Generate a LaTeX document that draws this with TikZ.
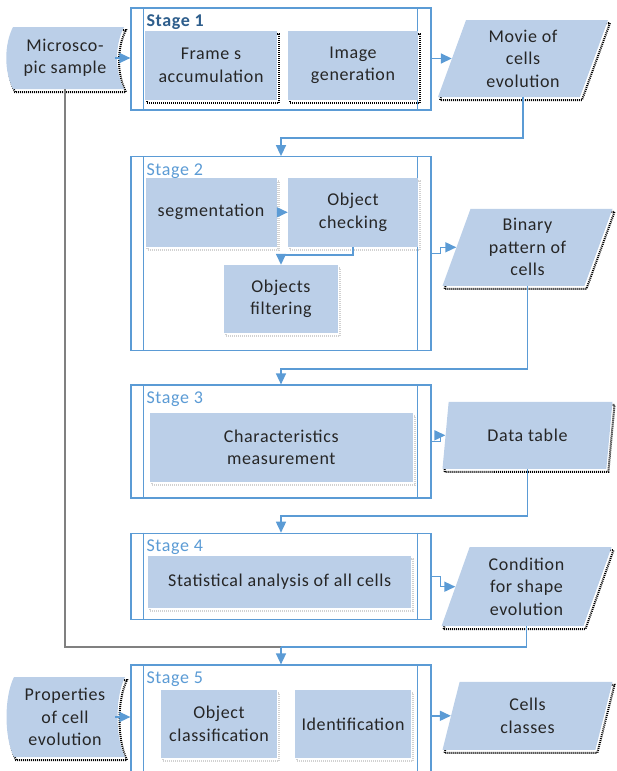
\documentclass[tikz,border=0pt]{standalone}
\usepackage{fontspec}
\setmainfont{Carlito}[LetterSpace=3.5]
\usetikzlibrary{shapes.geometric,arrows.meta,calc}

\definecolor{boxblue}{HTML}{BBCFE8}
\definecolor{lineblue}{HTML}{5B9BD5}
\definecolor{stagedark}{HTML}{2E5E8C}
\definecolor{txt}{HTML}{262626}

\begin{document}
\begin{tikzpicture}[x=1pt,y=-1pt,
    font=\fontsize{18}{22.5}\selectfont,
    darkshadow/.style={preaction={draw=black,line width=2pt,dash pattern=on 1pt off 1pt,transform canvas={shift={(2pt,-3pt)}}}},
    lightshadow/.style={preaction={draw=black!18,line width=2.5pt,dash pattern=on 1pt off 1pt,transform canvas={shift={(2pt,-3pt)}}}},
    task/.style={rectangle,fill=boxblue,text=txt,align=center,inner sep=0pt},
    dataio/.style={trapezium,trapezium left angle=64,trapezium right angle=116,trapezium stretches body,
        fill=boxblue,text=txt,align=center,inner sep=0pt,minimum height=77pt,minimum width=170pt,darkshadow},
    stagebox/.style={rectangle,draw=lineblue,line width=1.2pt,fill=white,minimum width=300pt,inner sep=0pt},
    stageedge/.style={draw=lineblue,line width=1.2pt},
    stagetag/.style={anchor=west,text=lineblue,inner sep=0pt},
    link/.style={draw=lineblue,line width=1.5pt,-{Triangle[length=11pt,width=10pt]}},
]
    \useasboundingbox (0,0) rectangle (616,771);
    \clip (0,0) rectangle (616,771);

    % Stage 1
    \node[stagebox,minimum height=102pt] (s1) at (281,59) {};
    \draw[stageedge] ([xshift=13pt]s1.north west) -- ([xshift=13pt]s1.south west);
    \draw[stageedge] ([xshift=-14pt]s1.north east) -- ([xshift=-14pt]s1.south east);
    \node[stagetag,text=stagedark,font=\fontsize{18}{22}\selectfont\bfseries] (tag1) at ([xshift=16pt,yshift=-15pt]s1.north west) {Stage 1};
    \node[task,darkshadow,minimum width=132pt,minimum height=69pt] (accum) at (211,65.5) {Frame s\\accumulation};
    \node[task,darkshadow,minimum width=130pt,minimum height=69pt] (imggen) at (353,65.5) {Image\\generation};

    % Stage 2
    \node[stagebox,minimum height=194pt] (s2) at (281,253.7) {};
    \draw[stageedge] ([xshift=13pt]s2.north west) -- ([xshift=13pt]s2.south west);
    \draw[stageedge] ([xshift=-14pt]s2.north east) -- ([xshift=-14pt]s2.south east);
    \node[stagetag] (tag2) at ([xshift=16pt,yshift=-15pt]s2.north west) {Stage 2};
    \node[task,lightshadow,minimum width=131pt,minimum height=69pt] (seg) at (211,212.3) {segmentation};
    \node[task,lightshadow,minimum width=130pt,minimum height=69pt] (check) at (353,212.3) {Object\\checking};
    \node[task,lightshadow,minimum width=114pt,minimum height=68pt] (filt) at (281,299) {Objects\\filtering};

    % Stage 3
    \node[stagebox,minimum height=113pt] (s3) at (281,441.5) {};
    \draw[stageedge] ([xshift=13pt]s3.north west) -- ([xshift=13pt]s3.south west);
    \draw[stageedge] ([xshift=-14pt]s3.north east) -- ([xshift=-14pt]s3.south east);
    \node[stagetag] (tag3) at ([xshift=16pt,yshift=-15pt]s3.north west) {Stage 3};
    \node[task,lightshadow,minimum width=263pt,minimum height=69pt] (meas) at (281.3,447.3) {Characteristics\\measurement};

    % Stage 4
    \node[stagebox,minimum height=86pt] (s4) at (281,576.3) {};
    \draw[stageedge] ([xshift=13pt]s4.north west) -- ([xshift=13pt]s4.south west);
    \draw[stageedge] ([xshift=-14pt]s4.north east) -- ([xshift=-14pt]s4.south east);
    \node[stagetag] (tag4) at ([xshift=16pt,yshift=-15pt]s4.north west) {Stage 4};
    \node[task,lightshadow,minimum width=263pt,minimum height=52pt] (stat) at (279.7,582) {Statistical analysis of all cells};

    % Stage 5
    \node[stagebox,minimum height=120pt] (s5) at (281,725) {};
    \draw[stageedge] ([xshift=13pt]s5.north west) -- ([xshift=13pt]s5.south west);
    \draw[stageedge] ([xshift=-14pt]s5.north east) -- ([xshift=-14pt]s5.south east);
    \node[stagetag] (tag5) at ([xshift=16pt,yshift=-15pt]s5.north west) {Stage 5};
    \node[task,lightshadow,minimum width=116pt,minimum height=68pt] (classif) at (219,724) {Object\\classification};
    \node[task,lightshadow,minimum width=116pt,minimum height=68pt] (ident) at (353,724) {Identification};

    % Inputs (stored data)
    \fill[boxblue,darkshadow] (13,27) -- (124,27) .. controls (114.7,45) and (114.7,71) .. (124,89)
        -- (13,89) .. controls (4,71) and (4,45) .. (13,27) -- cycle;
    \node[text=txt,align=center,minimum width=100pt,minimum height=62pt,inner sep=0pt] (sample) at (65,58) {Microsco-\\pic sample};
    \fill[boxblue,darkshadow] (14,677) -- (125,677) .. controls (115,697) and (115,737) .. (125,757)
        -- (14,757) .. controls (4,737) and (4,697) .. (14,677) -- cycle;
    \node[text=txt,align=center,minimum width=100pt,minimum height=80pt,inner sep=0pt] (props) at (65,717) {Properties\\of cell\\evolution};

    % Outputs
    \node[dataio] (movie) at (523,58.5) {Movie of\\cells\\evolution};
    \node[dataio] (binary) at (527.5,247.3) {Binary\\pattern of\\cells};
    \node[dataio,minimum height=67pt] (table) at (527.5,435.3) {Data table};
    \node[dataio,minimum height=79pt] (cond) at (526.5,586.7) {Condition\\for shape\\evolution};
    \node[dataio,minimum height=68pt] (classes) at (527.5,715.8) {Cells\\classes};

    % Links
    \draw[link] (sample.east) -- (sample.east -| s1.west);
    \draw[link] (movie.left side -| s1.east) -- (movie.left side);
    \draw[link] (movie.south) -- ++(0,41) -| (s2.north);
    \draw[link] (seg.east) -- (check.west);
    \draw[link] (check.south) -- ++(0,8) -| (filt.north);
    \draw[link] (s2.east) -- ++(9,0) |- (binary.left side);
    \draw[link] (binary.south) -- ++(0,83) -| (s3.north);
    \draw[link] (s3.east) -- ++(9,0) |- (table.left side);
    \draw[link] (table.south) -- ++(0,47) -| (s4.north);
    \draw[link] (s4.east) -- ++(9,0) |- (cond.left side);
    \coordinate (merge) at (281,647);
    \draw[draw=lineblue,line width=1.5pt] (cond.south) |- (merge);
    \draw[draw=black!50,line width=1.5pt] (sample.south) |- (merge);
    \draw[link] (merge) -- (s5.north);
    \draw[link] (props.east) -- (props.east -| s5.west);
    \draw[link] (classes.left side -| s5.east) -- (classes.left side);

\end{tikzpicture}
\end{document}
